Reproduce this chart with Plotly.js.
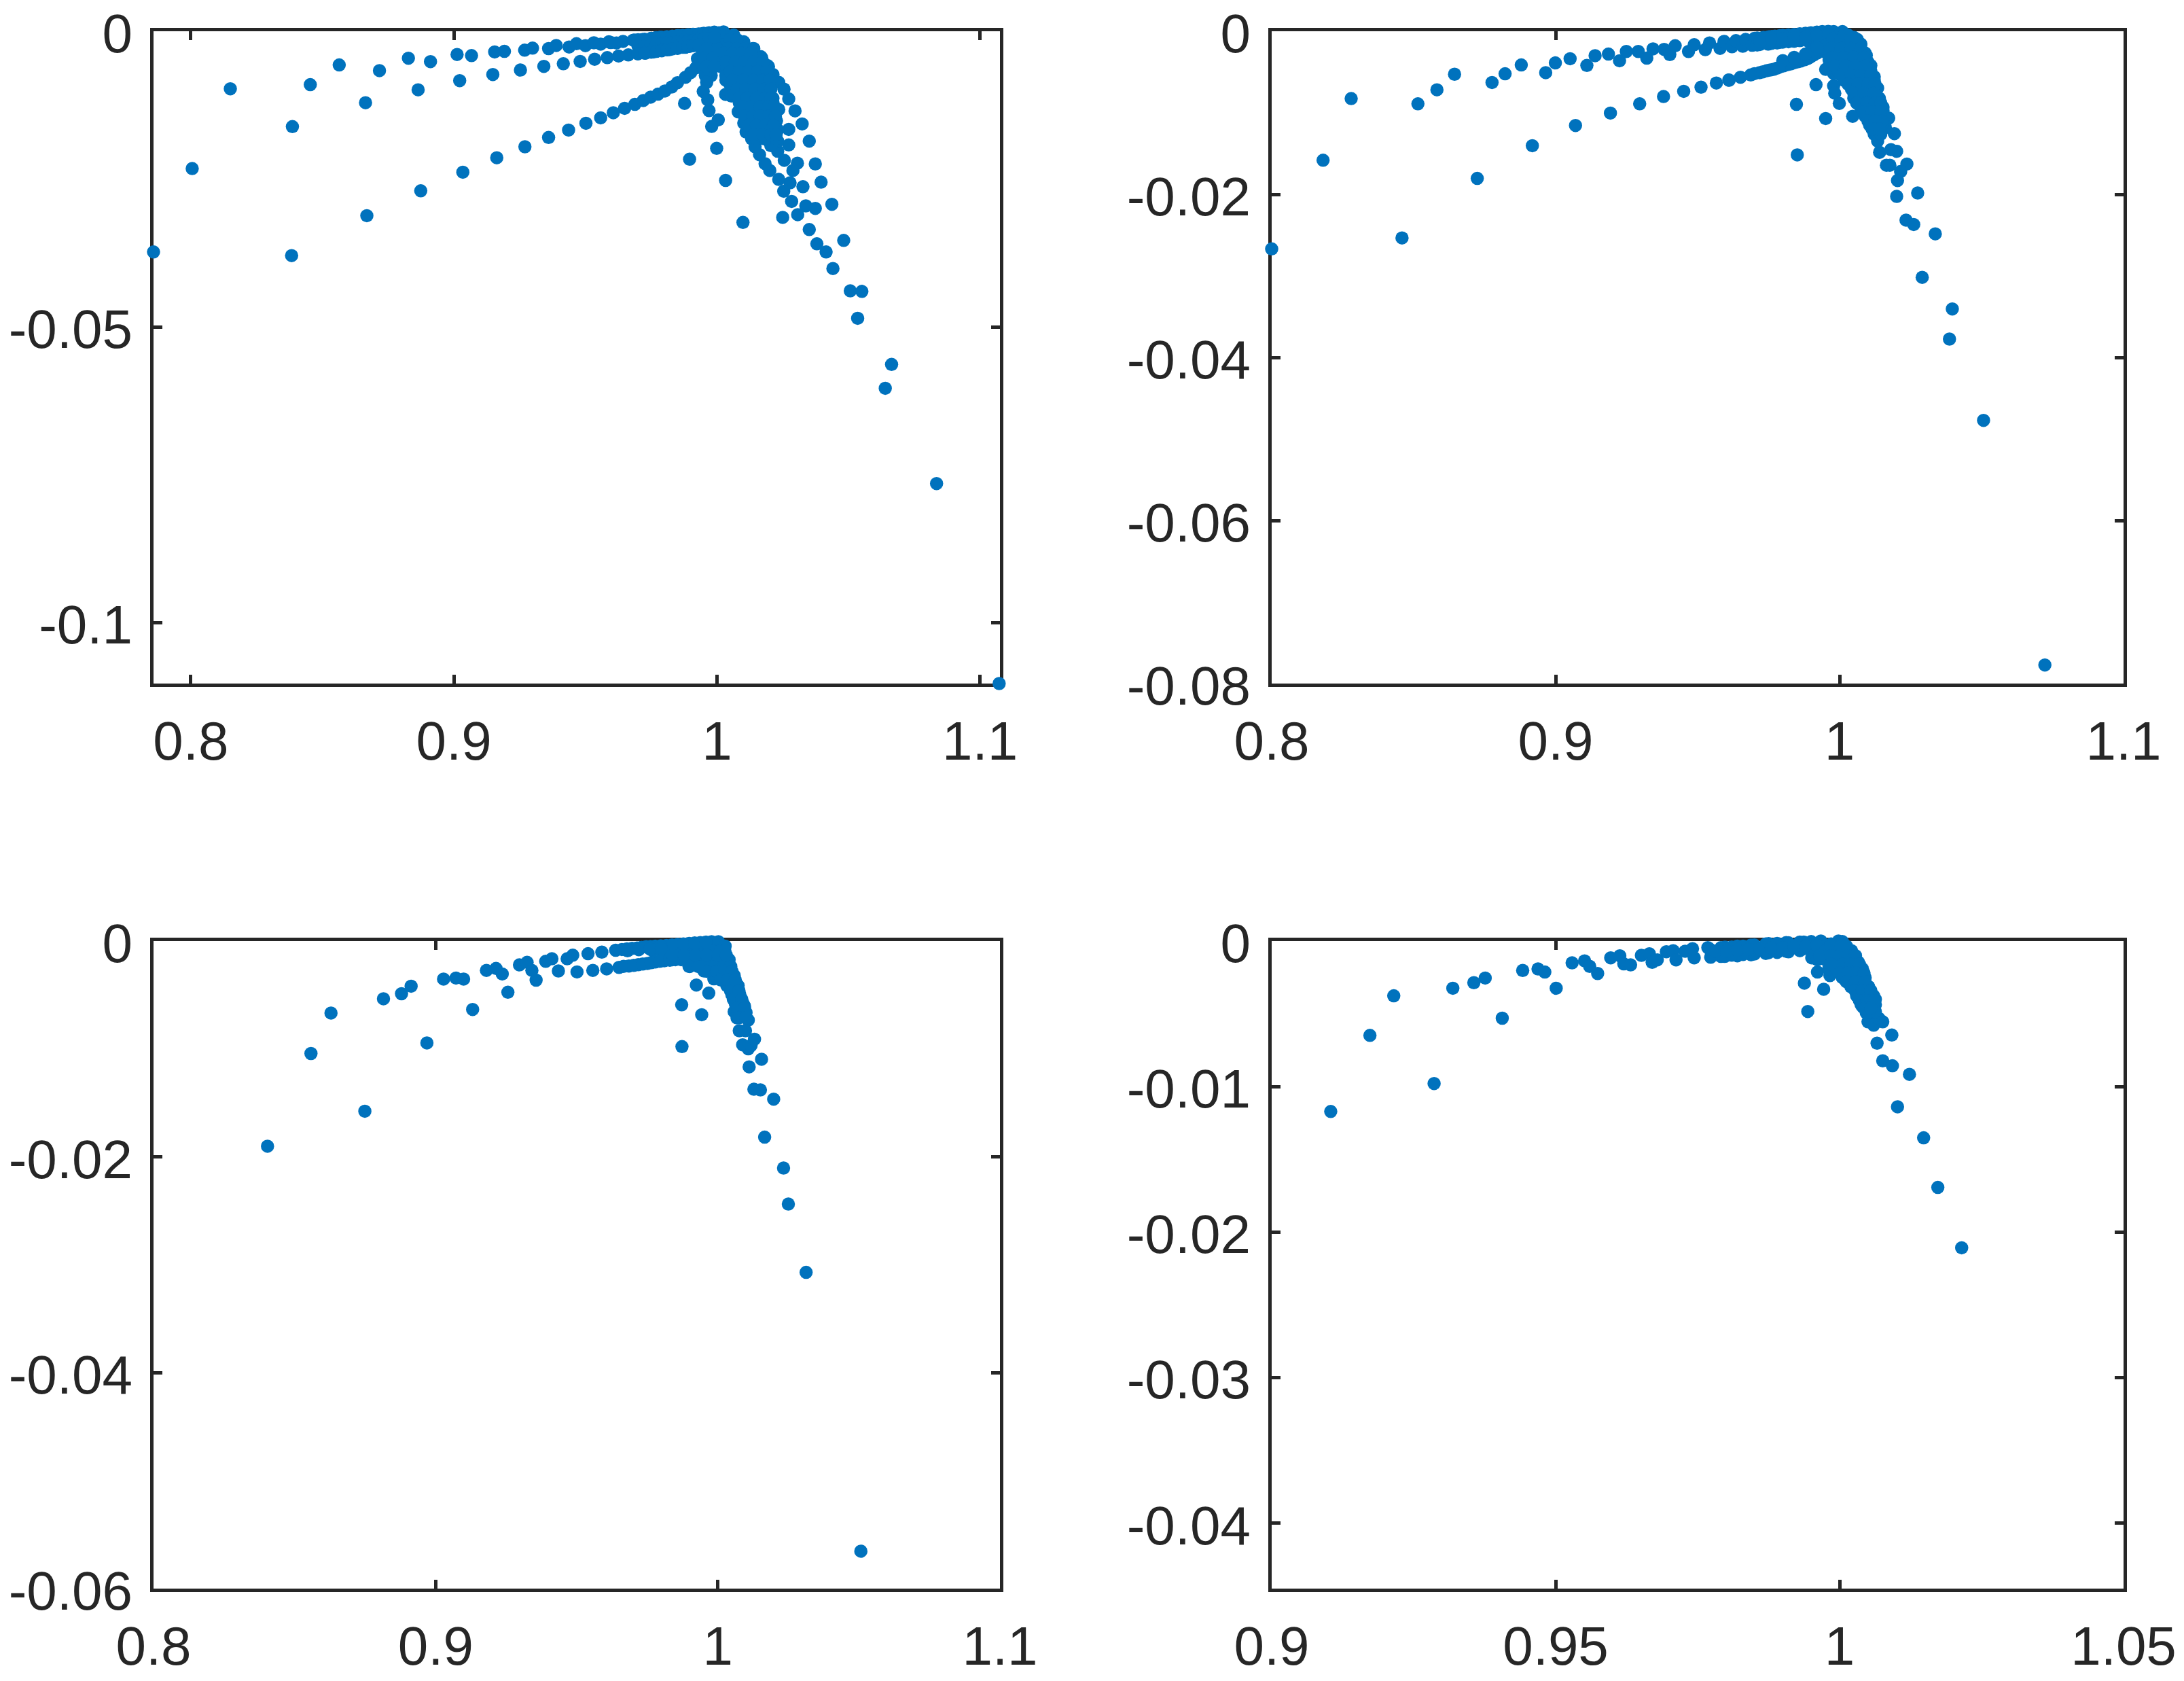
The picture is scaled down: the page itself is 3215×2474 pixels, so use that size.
<!DOCTYPE html>
<html><head><meta charset="utf-8">
<script src="https://cdn.plot.ly/plotly-3.0.1.min.js"></script>
<style>html,body{margin:0;padding:0;background:#fff}</style></head>
<body><div id="chart" style="width:3215px;height:2474px"></div>
<script>
const p1x=[.7858,.8005,.8150,.8386,.8383,.8454,.8564,.8664,.8669,.8717,.8827,.8864,.8874,.8911,.9012,.9022,.9034,.9067,.9148,.9155,.9163,.9192,.9253,.9269,.9270,.9299,.9342,.9360,.9360,.9389,.9416,.9436,.9438,.9466,.9480,.9502,.9500,.9532,.9535,.9558,.9558,.9583,.9589,.9606,.9618,.9626,.9643,.9649,.9663,.9686,.9688,.9699,.9716,.9720,.9729,.9748,.9751,.9760,.9776,.9785,.9790,.9802,.9820,.9828,.9850,.9850,.9880,.9880,.9900,.9910,.9920,.9940,.9940,.9970,
.9596,.9682,.9768,.9853,.9939,.9725,.9811,.9896,.9742,.9811,.9896,
1.0273,1.0297,1.0324,1.0351,1.0374,1.0396,1.0437,1.0482,1.0273,1.0273,1.0306,1.0289,1.0327,1.0278,1.0254,1.0284,1.0338,1.0374,1.0307,1.0250,1.0351,1.0380,1.0415,1.0441,1.0507,1.0551,1.0535,1.0664,1.0640,1.0835,1.1073,
1.0235,1.0201,1.0183,1.0162,1.0145,1.0132,1.0111,1.0256,1.0231,
.9877,.9896,.9970,1.0005,.9980,.9999,1.0033,1.0099,.9948,.9965,.9926,1.0033,.9978,
1.0025,1.0064,1.0102,1.0136,1.0166,1.0192,1.0213,1.0235,1.0255,
1.0025,1.0059,1.0093,1.0128,1.0153,1.0179,1.0196,1.0213,1.0226,
1.0016,1.0042,1.0068,1.0093,1.0119,1.0145,1.0171,1.0196,1.0231,
.9999,1.0016,1.0034,1.0055,1.0081,1.0102,
1.0025,1.0051,1.0076,1.0102,1.0128,1.0153,1.0179,1.0205,
1.0162,1.0196,1.0213,1.0136,1.0235,1.0231,
.9939,.9973,1.0008,.9973,.9948,.9973,.9999,.9973,.9956,.9961,
.9990,1.0050,1.0076,
1.0000,1.0042,1.0076,1.0111,1.0140,
1.0016,1.0050,1.0085,1.0120,1.0150,1.0170,
1.0025,1.0059,1.0093,1.0128,1.0162,1.0196,
1.0034,1.0068,1.0102,1.0136,1.0170,1.0205,
1.0050,1.0085,1.0120,1.0153,1.0185,
1.0065,1.0093,1.0128,1.0162,1.0196,
1.0085,1.0110,1.0145,1.0179,1.0213,
1.0095,1.0125,1.0153,1.0187,1.0222,
1.0110,1.0140,1.0170,1.0200,1.0226,
1.0128,1.0162,1.0190,1.0225,
1.0150,1.0185,1.0225,
.9700,.9725,.9750,.9770,.9790,.9810,.9830,.9850,.9870,.9890,.9910,.9930,.9950,.9970,.9990,
.9700,.9725,.9750,.9770,.9790,.9810,.9830,.9850,.9870,.9890,.9910,.9930,.9950,.9970,.9990,
.9700,.9725,.9750,.9770,.9790,.9810,.9830,.9850,.9870,.9890,.9910,.9930,
.9945,.9960,.9950,.9985,.9960,.9990,
1.0025,1.0060,1.0095,1.0130,
1.0035,1.0070,1.0105,1.0140,1.0175,
1.0050,1.0085,1.0120,1.0155,1.0190,
1.0060,1.0100,1.0140,1.0175,1.0200,
1.0078,1.0110,1.0145,1.0180,1.0205,
1.0085,1.0115,1.0150,1.0185,1.0205,
1.0098,1.0130,1.0165,1.0195,1.0218,
1.0105,1.0135,1.0165,1.0195,1.0222,
1.0120,1.0150,1.0185,1.0215,
1.0140,1.0175,1.0205,1.0225];
const p1y=[-.03734,-.02322,-.00973,-.01613,-.03795,-.00903,-.00570,-.01209,-.03120,-.00666,-.00456,-.00990,-.02699,-.00514,-.00393,-.00835,-.02384,-.00412,-.00732,-.00350,-.02140,-.00340,-.00656,-.00320,-.01954,-.00285,-.00594,-.01797,-.00293,-.00240,-.00549,-.01671,-.00267,-.00210,-.00511,-.01557,-.00244,-.00194,-.00473,-.01465,-.00217,-.00446,-.00179,-.01378,-.00198,-.00419,-.00171,-.01304,-.00400,-.00148,-.01236,-.00381,-.00141,-.01171,-.00370,-.01114,-.00121,-.00350,-.01064,-.00102,-.00330,-.01011,-.00310,-.00943,-.00290,-.00870,-.00270,-.00780,-.00700,-.00240,-.00620,-.00210,-.00540,-.00170,
-.00190,-.00152,-.00110,-.00075,-.00045,-.00369,-.00312,-.00255,-.00198,-.00160,-.00160,
-.01144,-.01347,-.01568,-.01858,-.02244,-.02553,-.02927,-.03538,-.01660,-.01923,-.02232,-.02355,-.02630,-.02564,-.02706,-.02878,-.02954,-.02996,-.03103,-.03148,-.03354,-.03595,-.03734,-.04014,-.04391,-.04400,-.04855,-.05635,-.06039,-.07651,-.11034,
-.02507,-.02355,-.02240,-.02088,-.01954,-.01820,-.01705,-.02183,-.02030,
-.01221,-.02164,-.01343,-.01499,-.01610,-.01980,-.02523,-.03233,-.01018,-.01160,-.00465,-.01068,-.00751,
-.00011,-.00064,-.00179,-.00293,-.00427,-.00579,-.00732,-.00866,-.00980,
-.00140,-.00255,-.00408,-.00599,-.00789,-.00980,-.01133,-.01324,-.01515,
-.00255,-.00484,-.00713,-.00942,-.01133,-.01343,-.01553,-.01705,-.01858,
-.00293,-.00599,-.00828,-.01095,-.01362,-.01553,
-.00369,-.00713,-.00980,-.01247,-.01477,-.01667,-.01820,-.01935,
-.01362,-.01438,-.01133,-.01171,-.01324,-.01667,
-.00140,-.00102,-.00026,-.00255,-.00484,-.00408,-.00484,-.00599,-.00751,-.00866,
-.00140,-.00140,-.00140,
-.00293,-.00293,-.00293,-.00293,-.00293,
-.00446,-.00446,-.00446,-.00446,-.00446,-.00446,
-.00599,-.00599,-.00599,-.00599,-.00599,-.00599,
-.00752,-.00752,-.00752,-.00752,-.00752,-.00752,
-.00904,-.00904,-.00904,-.00904,-.00904,
-.01057,-.01057,-.01057,-.01057,-.01057,
-.01210,-.01210,-.01210,-.01210,-.01210,
-.01362,-.01362,-.01362,-.01362,-.01362,
-.01515,-.01515,-.01515,-.01515,-.01515,
-.01667,-.01667,-.01667,-.01667,
-.01820,-.01820,-.01820,
-.00145,-.00135,-.00122,-.00110,-.00100,-.00092,-.00084,-.00076,-.00068,-.00060,-.00052,-.00046,-.00035,-.00025,-.00015,
-.00250,-.00250,-.00235,-.00225,-.00215,-.00205,-.00195,-.00185,-.00175,-.00165,-.00155,-.00140,-.00130,-.00120,-.00100,
-.00381,-.00369,-.00352,-.00340,-.00326,-.00312,-.00300,-.00285,-.00270,-.00257,-.00245,-.00235,
-.00350,-.00300,-.00450,-.00450,-.00600,-.00600,
-.00370,-.00370,-.00370,-.00370,
-.00520,-.00520,-.00520,-.00520,-.00520,
-.00680,-.00680,-.00680,-.00680,-.00680,
-.00830,-.00830,-.00830,-.00830,-.00830,
-.00980,-.00980,-.00980,-.00980,-.00980,
-.01130,-.01130,-.01130,-.01130,-.01130,
-.01280,-.01280,-.01280,-.01280,-.01280,
-.01440,-.01440,-.01440,-.01440,-.01440,
-.01590,-.01590,-.01590,-.01590,
-.01750,-.01750,-.01750,-.01750];

const p2x=[.8000,.8181,.8280,.8459,.8515,.8582,.8644,.8724,.8776,.8822,.8879,.8918,.8965,.8999,.9051,.9070,.9110,.9139,.9186,.9193,.9225,.9249,.9291,.9296,.9321,.9343,.9380,.9382,.9402,.9421,.9451,.9468,.9488,.9512,.9527,.9542,.9566,.9579,.9593,.9610,.9621,.9635,.9659,.9669,.9692,.9700,.9720,.9732,.9748,.9772,.9780,.9820,.9820,.9860,.9860,.9899,.9899,.9931,.9939,
.9611,.9651,.9687,.9718,.9744,.9768,.9792,.9816,.9840,.9864,.9887,.9907,.9931,
.9848,.9851,.9917,.9951,.9951,.9979,.9983,.9999,1.0046,
1.0193,1.0173,1.0153,1.0141,1.0134,1.0122,1.0110,1.0094,1.0074,1.0050,1.0010,.9979,
1.0201,1.0181,1.0141,1.0165,1.0177,1.0237,1.0215,1.0204,1.0201,1.0275,1.0234,1.0261,
1.0291,1.0397,1.0387,1.0507,1.0723,1.0337,
1.0041,1.0058,1.0082,1.0106,1.0122,1.0134,
1.0010,1.0034,1.0058,1.0082,1.0102,1.0122,1.0141,1.0161,
.9979,.9995,1.0010,.9947,.9963,.9931,.9955,.9923,.9899,.9899,.9979,1.0026,1.0058,1.0082,1.0106,1.0114,1.0137,.9979,
.9955,.9985,1.0015,1.0030,
.9947,.9985,1.0020,1.0050,1.0075,
.9955,.9990,1.0025,1.0058,1.0090,
.9971,1.0005,1.0040,1.0074,1.0100,
.9995,1.0030,1.0065,1.0100,1.0110,
1.0015,1.0050,1.0085,1.0122,
1.0042,1.0075,1.0105,1.0130,
1.0050,1.0085,1.0115,1.0140,
1.0074,1.0105,1.0130,1.0153,
1.0090,1.0115,1.0140,1.0158,
1.0106,1.0130,1.0150,
1.0122,1.0145,
.9710,.9750,.9760,.9790,.9800,.9840,.9880,.9920,.9960,
.9710,.9750,.9760,.9790,.9800,.9840,.9880,.9920,.9960,
.9720,.9760,.9800,.9840,.9880,.9920,.9960,
.9700,.9730,.9756,.9780,.9804,.9828,.9852,.9876,.9897,.9920,.9945,.9965,.9985,
.9800,.9840,.9880,.9920,
.9975,1.0005,1.0040,1.0062,
.9970,1.0005,1.0040,1.0075,
.9975,1.0015,1.0050,1.0085,
.9985,1.0020,1.0055,1.0090,
1.0005,1.0040,1.0075,1.0110,
1.0030,1.0065,1.0100,1.0125,
1.0050,1.0085,1.0120,
1.0060,1.0095,1.0125,1.0145,
1.0085,1.0115,1.0145,
1.0100,1.0125,1.0150,
1.0115,1.0140];
const p2y=[-.02669,-.01582,-.00826,-.02535,-.00890,-.00718,-.00527,-.01805,-.00629,-.00521,-.00413,-.01404,-.00508,-.00388,-.00337,-.01156,-.00419,-.00299,-.00280,-.01004,-.00362,-.00248,-.00248,-.00890,-.00330,-.00216,-.00801,-.00222,-.00286,-.00178,-.00737,-.00248,-.00165,-.00686,-.00226,-.00143,-.00635,-.00210,-.00124,-.00597,-.00190,-.00115,-.00184,-.00101,-.00171,-.00088,-.00162,-.00074,-.00157,-.00060,-.00143,-.00046,-.00129,-.00032,-.00115,-.00018,-.00101,-.00088,-.00005,
-.00600,-.00564,-.00536,-.00508,-.00483,-.00467,-.00434,-.00411,-.00387,-.00364,-.00337,-.00295,-.00240,
-.00896,-.01516,-.00655,-.01070,-.00467,-.00669,-.00760,-.00885,-.01043,
-.01256,-.01065,-.00973,-.00849,-.00697,-.00558,-.00420,-.00295,-.00171,-.00074,-.00005,-.00005,
-.01472,-.01452,-.01485,-.01643,-.01643,-.01629,-.01720,-.01831,-.02025,-.01984,-.02316,-.02370,
-.03018,-.03406,-.03775,-.04772,-.07772,-.02485,
-.00627,-.00793,-.00987,-.01126,-.01236,-.01347,
-.00157,-.00351,-.00517,-.00683,-.00835,-.00987,-.01098,-.01181,
-.00157,-.00378,-.00544,-.00157,-.00351,-.00240,-.00046,-.00074,-.00060,-.00157,-.00268,-.00240,-.00295,-.00434,-.00600,-.00738,-.00904,-.00517,
-.00046,-.00046,-.00046,-.00046,
-.00157,-.00157,-.00157,-.00157,-.00157,
-.00267,-.00267,-.00267,-.00267,-.00267,
-.00378,-.00378,-.00378,-.00378,-.00378,
-.00489,-.00489,-.00489,-.00489,-.00489,
-.00600,-.00600,-.00600,-.00600,
-.00710,-.00710,-.00710,-.00710,
-.00821,-.00821,-.00821,-.00821,
-.00932,-.00932,-.00932,-.00932,
-.01043,-.01043,-.01043,-.01043,
-.01153,-.01153,-.01153,
-.01264,-.01264,
-.00083,-.00068,-.00064,-.00054,-.00050,-.00040,-.00025,-.00010,-.00002,
-.00168,-.00155,-.00148,-.00136,-.00133,-.00122,-.00108,-.00095,-.00080,
-.00120,-.00100,-.00090,-.00080,-.00070,-.00050,-.00040,
-.00520,-.00497,-.00475,-.00452,-.00422,-.00400,-.00375,-.00350,-.00315,-.00270,-.00210,-.00150,-.00080,
-.00360,-.00320,-.00280,-.00200,
-.00100,-.00100,-.00100,-.00100,
-.00210,-.00210,-.00210,-.00210,
-.00320,-.00320,-.00320,-.00320,
-.00430,-.00430,-.00430,-.00430,
-.00540,-.00540,-.00540,-.00540,
-.00650,-.00650,-.00650,-.00650,
-.00760,-.00760,-.00760,
-.00880,-.00880,-.00880,-.00880,
-.00990,-.00990,-.00990,
-.01100,-.01100,-.01100,
-.01200,-.01200];

const p3x=[.8404,.8558,.8629,.8749,.8815,.8879,.8913,.8969,.9028,.9072,.9099,.9131,.9180,.9214,.9236,.9256,.9297,.9324,.9341,.9356,.9390,.9412,.9435,.9466,.9486,.9501,.9540,.9557,.9589,.9606,.9638,.9650,
.9678,.9714,.9746,.9778,.9818,.9858,.9898,.9938,.9978,1.0002,
.9685,.9718,.9750,.9778,.9810,.9850,.9890,.9898,.9951,.9986,.9924,.9968,.9872,.9943,.9873,.9938,.9978,.9858,.9818,
1.0026,1.0038,1.0058,1.0072,1.0082,1.0094,1.0098,1.0108,1.0032,1.0058,1.0068,.9994,1.0002,1.0018,1.0034,1.0050,1.0066,
1.0076,1.0098,1.0088,1.0108,1.0118,1.0130,1.0155,1.0111,1.0128,1.0151,1.0198,1.0166,1.0233,1.0250,1.0313,1.0507,
.9770,.9800,.9830,.9860,.9890,.9920,.9950,.9980,1.0010,1.0025,
.9810,.9840,.9870,.9900,.9930,.9960,.9990,1.0020,1.0040,
.9900,.9930,.9960,.9990,1.0020,1.0046,
.9986,1.0020,1.0050,
1.0040,1.0072,
1.0050,1.0078,
1.0062,1.0090,
1.0072,1.0100,
.9838,.9878,.9918,.9958,
.9660,.9696,.9730,.9762,.9798,
.9666,.9702,.9734,.9764,.9794,.9830,.9870,
.9680,.9720,.9760,.9800,
.9840,.9880,.9920,.9960,1.0000,1.0030,
.9960,.9995,1.0025,1.0050,
1.0010,1.0035,1.0062,
1.0045,1.0075,
1.0055,1.0085,
1.0070,1.0095,
1.0075,1.0100];
const p3y=[-.01901,-.01042,-.00667,-.01577,-.00535,-.00488,-.00418,-.00944,-.00352,-.00343,-.00352,-.00634,-.00272,-.00254,-.00305,-.00474,-.00221,-.00197,-.00272,-.00362,-.00188,-.00164,-.00277,-.00164,-.00131,-.00286,-.00117,-.00272,-.00103,-.00258,-.00085,-.00244,
-.00072,-.00064,-.00052,-.00047,-.00041,-.00031,-.00022,-.00014,-.00006,-.00006,
-.00231,-.00219,-.00208,-.00194,-.00183,-.00173,-.00162,-.00235,-.00277,-.00350,-.00407,-.00482,-.00591,-.00683,-.00978,-.00131,-.00131,-.00110,-.00110,
-.00047,-.00173,-.00319,-.00434,-.00528,-.00601,-.00654,-.00733,-.00413,-.00654,-.00712,-.00236,-.00340,-.00236,-.00298,-.00466,-.00591,
-.00831,-.00831,-.00961,-.00998,-.00967,-.00909,-.01095,-.01166,-.01373,-.01379,-.01465,-.01817,-.02103,-.02437,-.03070,-.05653,
-.00089,-.00089,-.00089,-.00089,-.00089,-.00089,-.00089,-.00089,-.00089,-.00089,
-.00173,-.00173,-.00173,-.00173,-.00173,-.00173,-.00173,-.00173,-.00173,
-.00236,-.00236,-.00236,-.00236,-.00236,-.00236,
-.00319,-.00319,-.00319,
-.00413,-.00413,
-.00497,-.00497,
-.00580,-.00580,
-.00664,-.00664,
-.00036,-.00026,-.00018,-.00010,
-.00078,-.00068,-.00058,-.00050,-.00044,
-.00235,-.00225,-.00213,-.00200,-.00188,-.00178,-.00168,
-.00090,-.00080,-.00075,-.00070,
-.00130,-.00130,-.00130,-.00130,-.00130,-.00130,
-.00280,-.00280,-.00280,-.00280,
-.00360,-.00360,-.00360,
-.00460,-.00460,
-.00540,-.00540,
-.00620,-.00620,
-.00710,-.00710];

const p4x=[.9104,.9173,.9215,.9286,.9319,.9356,.9376,.9406,.9442,.9469,.9481,.9501,.9529,.9551,.9560,.9574,.9597,.9613,.9620,.9632,.9651,.9665,.9670,.9679,.9695,.9707,.9712,.9728,.9744,.9741,.9768,.9773,.9798,.9798,.9820,.9820,.9844,.9844,.9875,.9875,.9906,.9906,.9937,.9937,.9967,.9967,.9998,
.9938,.9944,.9961,.9972,.9983,.9951,.9989,
1.0005,1.0021,1.0033,1.0041,1.0051,1.0063,1.0076,1.0027,1.0031,1.0041,1.0047,1.0050,1.0060,1.0069,1.0013,1.0021,1.0033,1.0041,1.0053,1.0057,1.0005,.9993,
1.0092,1.0066,1.0076,1.0093,1.0123,1.0102,1.0148,1.0173,1.0215,1.0408,
.9771,.9791,.9810,.9830,.9850,.9870,.9890,.9910,.9930,.9950,
.9791,.9810,.9830,.9850,.9870,.9890,.9910,.9930,.9950,
.9781,.9801,.9820,.9840,.9860,.9880,.9900,.9920,.9940,.9960,.9985,1.0000,
.9975,.9990,1.0010,
.9961,.9975,.9990,1.0005,1.0025,
.9981,.9995,1.0010,1.0025,1.0040,
1.0005,1.0020,1.0035,1.0045,
1.0020,1.0035,1.0051,
1.0030,1.0045,1.0060,
1.0038,1.0050,1.0063,
1.0052,1.0063,
.9985,1.0002,1.0012,
.9965,.9985,1.0000,1.0015,1.0028,
.9985,1.0005,1.0020,1.0035,
1.0000,1.0015,1.0030,1.0043,
1.0012,1.0028,1.0045,
1.0027,1.0040,1.0055,
1.0035,1.0048,1.0062,
1.0045,1.0055];
const p4y=[-.01171,-.00648,-.00376,-.00979,-.00324,-.00286,-.00254,-.00530,-.00202,-.00192,-.00213,-.00324,-.00150,-.00136,-.00174,-.00223,-.00115,-.00101,-.00157,-.00164,-.00098,-.00087,-.00146,-.00129,-.00073,-.00066,-.00129,-.00070,-.00115,-.00052,-.00045,-.00111,-.00042,-.00105,-.00035,-.00101,-.00028,-.00094,-.00017,-.00080,-.00010,-.00070,-.00007,-.00052,0,-.00052,0,
-.00289,-.00484,-.00213,-.00331,-.00237,-.00115,-.00174,
-.00004,-.00066,-.00144,-.00237,-.00314,-.00400,-.00555,-.00299,-.00361,-.00454,-.00493,-.00555,-.00578,-.00531,-.00128,-.00206,-.00283,-.00345,-.00407,-.00485,-.00097,-.00159,
-.00646,-.00702,-.00823,-.00857,-.00916,-.01139,-.01352,-.01693,-.02108,-.04453,
-.00054,-.00046,-.00041,-.00035,-.00027,-.00020,-.00016,-.00012,-.00007,-.00004,
-.00105,-.00097,-.00092,-.00089,-.00085,-.00078,-.00074,-.00066,-.00051,
-.00070,-.00068,-.00064,-.00058,-.00055,-.00048,-.00045,-.00040,-.00035,-.00030,-.00020,-.00020,
-.00066,-.00066,-.00066,
-.00128,-.00128,-.00128,-.00128,-.00128,
-.00190,-.00190,-.00190,-.00190,-.00190,
-.00252,-.00252,-.00252,-.00252,
-.00314,-.00314,-.00314,
-.00376,-.00376,-.00376,
-.00438,-.00438,-.00438,
-.00485,-.00485,
-.00035,-.00035,-.00035,
-.00100,-.00100,-.00100,-.00100,-.00100,
-.00160,-.00160,-.00160,-.00160,
-.00220,-.00220,-.00220,-.00220,
-.00280,-.00280,-.00280,
-.00340,-.00340,-.00340,
-.00410,-.00410,-.00410,
-.00460,-.00460];

const xTicks1=[0.8,0.9,1,1.1], xLabels1=["0.8","0.9","1","1.1"];
const xTicks4=[0.9,0.95,1,1.05], xLabels4=["0.9","0.95","1","1.05"];
const yTicks1=[0,-0.05,-0.1], yLabels1=["0","-0.05","-0.1"];
const yTicks2=[0,-0.02,-0.04,-0.06,-0.08], yLabels2=["0","-0.02","-0.04","-0.06","-0.08"];
const yTicks3=[0,-0.02,-0.04,-0.06], yLabels3=["0","-0.02","-0.04","-0.06"];
const yTicks4=[0,-0.01,-0.02,-0.03,-0.04], yLabels4=["0","-0.01","-0.02","-0.03","-0.04"];

const W=3215,H=2474;
const ink='#262626';
const panels=[
 {x:p1x,y:p1y,xr:[.7858,1.1076],yr:[-.11034,0],xt:xTicks1,xl:xLabels1,yt:yTicks1,yl:yLabels1,l:226,r:1472,t:46,b:1006},
 {x:p2x,y:p2y,xr:[.8,1.1],yr:[-.08,0],xt:xTicks1,xl:xLabels1,yt:yTicks2,yl:yLabels2,l:1872,r:3126,t:46,b:1006},
 {x:p3x,y:p3y,xr:[.8,1.1],yr:[-.06,0],xt:xTicks1,xl:xLabels1,yt:yTicks3,yl:yLabels3,l:226,r:1472,t:1385,b:2338},
 {x:p4x,y:p4y,xr:[.9,1.05],yr:[-.0445,0],xt:xTicks4,xl:xLabels4,yt:yTicks4,yl:yLabels4,l:1872,r:3126,t:1385,b:2338}
];
const layout={width:W,height:H,margin:{l:0,r:0,t:0,b:0},paper_bgcolor:'#fff',plot_bgcolor:'#fff',showlegend:false,
 font:{family:'"Liberation Sans",Arial,sans-serif',size:80,color:ink}};
const traces=panels.map((p,i)=>{
 const s=i?String(i+1):'';
 const common={showgrid:false,zeroline:false,showline:true,linecolor:ink,linewidth:5,mirror:'ticks',ticks:'inside',ticklen:13,tickwidth:5,tickcolor:ink,
  tickfont:{family:'"Liberation Sans",Arial,sans-serif',size:80,color:ink},tickangle:0,layer:'below traces',automargin:false};
 layout['xaxis'+s]=Object.assign({},common,{domain:[p.l/W,p.r/W],range:p.xr,tickmode:'array',tickvals:p.xt,ticktext:p.xl,anchor:'y'+s,ticklabelstandoff:11});
 layout['yaxis'+s]=Object.assign({},common,{domain:[1-p.b/H,1-p.t/H],range:p.yr,tickmode:'array',tickvals:p.yt,ticktext:p.yl,anchor:'x'+s,ticklabelstandoff:10,ticklabelshift:3});
 return {type:'scatter',mode:'markers',x:p.x,y:p.y,xaxis:'x'+s,yaxis:'y'+s,cliponaxis:false,hoverinfo:'skip',
  marker:{color:'#0072BD',size:19.5,line:{width:0}}};
});
Plotly.newPlot('chart',traces,layout,{displayModeBar:false,staticPlot:true});
</script></body></html>
